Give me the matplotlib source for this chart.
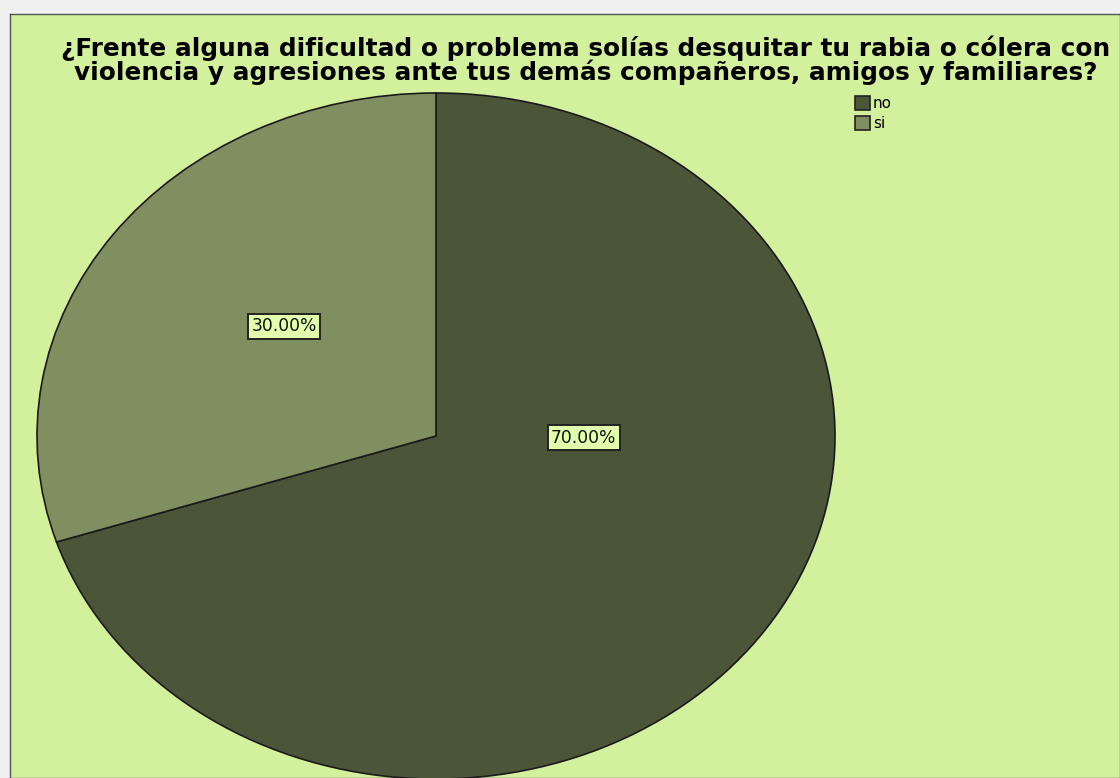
import matplotlib.pyplot as plt
from matplotlib.patches import Rectangle

# datos
categorias = ['no', 'si']
porcentajes = [70.0, 30.0]
colores = ['#4b5639', '#808f5f']
titulo = ('¿Frente alguna dificultad o problema solías desquitar tu rabia o cólera con\n'
          'violencia y agresiones ante tus demás compañeros, amigos y familiares?')

W, H = 1120, 778
fig = plt.figure(figsize=(W / 100, H / 100), dpi=100)
fig.patch.set_facecolor('#f0f0f0')

# panel verde
panel = fig.add_axes([10 / W, 0, 1 - 10 / W, 1 - 14 / H])
panel.set_facecolor('#d3f09c')
panel.set_xticks([])
panel.set_yticks([])
for s in panel.spines.values():
    s.set_color('#555555')
    s.set_linewidth(1)

fig.text(586 / W, 1 - 60 / H, titulo, ha='center', va='center',
         fontsize=17.8, fontweight='bold', family='DejaVu Sans',
         linespacing=0.93)

# pastel (elipse)
ax = fig.add_axes([37 / W, -1 / H, 798 / W, 686 / H])
wedges, textos, autotextos = ax.pie(
    porcentajes, colors=colores, startangle=90, counterclock=False,
    autopct='%.2f%%', pctdistance=0.5,
    wedgeprops=dict(edgecolor='#1a1a1a', linewidth=1.2),
    textprops=dict(fontsize=12.3, family='DejaVu Sans'))
ax.set_aspect('auto')
ax.set_xlim(-1.0, 1.0)
ax.set_ylim(-1.0, 1.0)
ax.axis('off')

# posiciones de las etiquetas como en la imagen
posiciones = {'no': (0.37, -0.005), 'si': (-0.38, 0.32)}
for cat, t in zip(categorias, autotextos):
    t.set_position(posiciones[cat])
    t.set_color('#111111')
    t.set_bbox(dict(boxstyle='square,pad=0.2', facecolor='#e2ffab',
                    edgecolor='#222222', linewidth=1.4))

# leyenda
lax = fig.add_axes([0, 0, 1, 1])
lax.set_xlim(0, W)
lax.set_ylim(H, 0)
lax.axis('off')
for i, (cat, col) in enumerate(zip(categorias, colores)):
    y = 103 + i * 20
    lax.add_patch(Rectangle((855, y - 7), 15, 14, facecolor=col,
                            edgecolor='#222222', linewidth=1.2))
    lax.text(873, y, cat, va='center', ha='left', fontsize=11,
             family='DejaVu Sans')

fig.savefig('out.png', dpi=100, facecolor=fig.get_facecolor())
